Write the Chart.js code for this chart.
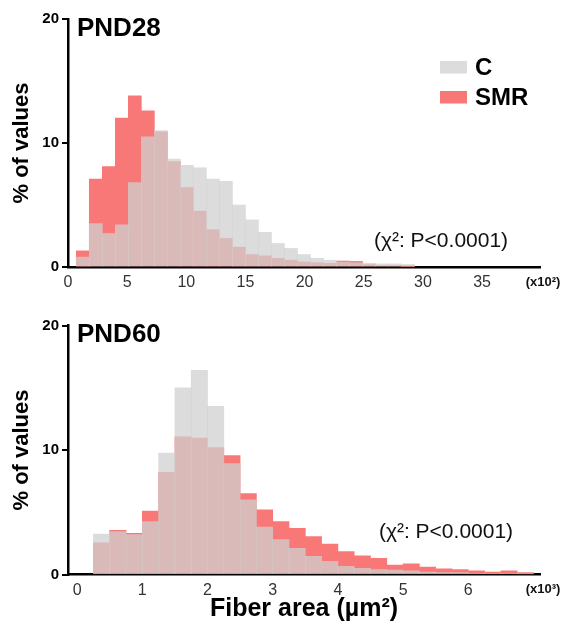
<!DOCTYPE html>
<html>
<head>
<meta charset="utf-8">
<script src="https://cdn.jsdelivr.net/npm/chart.js@4.4.1/dist/chart.umd.min.js"></script>
<style>
  html, body { margin: 0; padding: 0; background: #fff; }
  canvas { display: block; }
</style>
</head>
<body>
<canvas id="pnd28" width="567" height="300"></canvas>
<canvas id="pnd60" width="567" height="334"></canvas>
<script>
// bin centres (x10^2 um^2 for PND28, x10^3 um^2 for PND60) and % of fibres
const seriesNames = ['C', 'SMR'];

const binsPND28 = [1.25, 2.35, 3.45, 4.55, 5.65, 6.75, 7.85, 8.95, 10.05, 11.15, 12.25, 13.35, 14.45,
  15.55, 16.65, 17.75, 18.85, 19.95, 21.05, 22.15, 23.25, 24.35, 25.45, 26.55, 27.65, 28.75];
const cPND28 = [0.8, 3.5, 2.7, 3.4, 6.8, 10.5, 11.0, 8.7, 8.2, 8.0, 7.1, 6.9, 5.0,
  3.8, 2.8, 1.9, 1.5, 1.0, 0.7, 0.55, 0.4, 0.35, 0.3, 0.25, 0.25, 0.2];
const smrPND28 = [1.3, 7.1, 8.1, 12.0, 13.8, 12.6, 10.9, 8.5, 6.4, 4.5, 3.0, 2.3, 1.6,
  1.0, 0.9, 0.7, 0.55, 0.4, 0.35, 0.3, 0.48, 0.45, 0.2, 0.1, 0.1, 0.05];
const ticksPND28 = [0, 5, 10, 15, 20, 25, 30, 35];

const binsPND60 = [0.375, 0.625, 0.875, 1.125, 1.375, 1.625, 1.875, 2.125, 2.375, 2.625, 2.875,
  3.125, 3.375, 3.625, 3.875, 4.125, 4.375, 4.625, 4.875, 5.125, 5.375, 5.625, 5.875, 6.125,
  6.375, 6.625, 6.875];
const cPND60 = [3.25, 3.45, 3.2, 4.25, 9.75, 15.0, 16.4, 13.5, 8.9, 6.0, 3.8, 2.8, 2.1, 1.45,
  1.05, 0.65, 0.5, 0.4, 0.35, 0.3, 0.2, 0.15, 0.15, 0.1, 0.1, 0.1, 0.05];
const smrPND60 = [2.55, 3.55, 3.3, 5.1, 8.2, 11.05, 10.95, 10.2, 9.55, 6.5, 5.2, 4.25, 3.7, 3.05,
  2.45, 1.85, 1.5, 1.3, 0.75, 0.85, 0.6, 0.45, 0.4, 0.3, 0.2, 0.3, 0.15];
const ticksPND60 = [0, 1, 2, 3, 4, 5, 6];
const yTicks = [0, 10, 20];

const FONT = '"Liberation Sans", Arial, sans-serif';
const greyC = 'rgba(208,208,208,0.74)';
const redSMR = '#f87878';

// titles, legend, chi-square note and axis multiplier
const panelText = {
  id: 'panelText',
  afterDraw(chart, args, o) {
    const ctx = chart.ctx;
    ctx.save();
    ctx.fillStyle = '#000';
    ctx.textBaseline = 'middle';
    ctx.textAlign = 'left';
    ctx.font = 'bold 26px ' + FONT;
    ctx.fillText(o.title, 77, o.titleY);

    if (o.legend) {
      chart.data.datasets.forEach(function (ds, i) {
        const y = 61 + i * 30;
        ctx.fillStyle = ds.backgroundColor;
        ctx.fillRect(440, y, 27, 12.5);
        ctx.fillStyle = '#000';
        ctx.font = 'bold 24px ' + FONT;
        ctx.fillText(ds.label, 475, y + 7);
      });
    }

    ctx.fillStyle = '#111';
    ctx.textAlign = 'center';
    ctx.font = '21px ' + FONT;
    ctx.fillText('(\u03c7\u00b2: P<0.0001)', o.noteX, o.noteY);

    ctx.font = 'bold 13px ' + FONT;
    ctx.fillText(o.unit, 543, o.unitY);
    ctx.restore();
  }
};

function makeChart(id, bins, cVals, smrVals, xTicks, xmin, xmax, top, axisH, textOpts, withTitle) {
  const ds = [cVals, smrVals].map(function (vals, i) {
    return {
      label: seriesNames[i],
      data: vals.map(function (v, k) { return { x: bins[k], y: v }; }),
      backgroundColor: i === 0 ? greyC : redSMR,
      borderWidth: 0,
      grouped: false,
      barPercentage: 1,
      categoryPercentage: 1
    };
  });
  return new Chart(document.getElementById(id), {
    type: 'bar',
    data: { datasets: ds },
    options: {
      responsive: false,
      animation: false,
      layout: { padding: { top: top, right: 27, left: 0, bottom: 0 } },
      plugins: { legend: { display: false }, tooltip: { enabled: false }, panelText: textOpts },
      scales: {
        x: {
          type: 'linear',
          offset: false,
          min: xmin,
          max: xmax,
          afterBuildTicks: function (s) { s.ticks = xTicks.map(function (v) { return { value: v }; }); },
          afterFit: function (s) { s.height = axisH; },
          grid: { display: false, drawTicks: false },
          border: { display: true, color: '#000', width: 2.5 },
          ticks: { autoSkip: false, maxRotation: 0, padding: 6, color: '#333', font: { family: FONT, size: 16 } },
          title: {
            display: withTitle,
            text: 'Fiber area (\u00b5m\u00b2)',
            color: '#000',
            font: { family: FONT, size: 25, weight: 'bold' },
            padding: { top: 0, bottom: 10 }
          }
        },
        y: {
          min: 0,
          max: 20,
          afterBuildTicks: function (s) { s.ticks = yTicks.map(function (v) { return { value: v }; }); },
          afterFit: function (s) { s.width = 68; },
          grid: { display: true, drawOnChartArea: false, drawTicks: true, tickLength: 6, color: '#000', lineWidth: 2 },
          border: { display: true, color: '#000', width: 2.5 },
          ticks: { padding: 3, color: '#000', font: { family: FONT, size: 15, weight: 'bold' } },
          title: {
            display: true,
            text: '% of values',
            color: '#000',
            font: { family: FONT, size: 22, weight: 'bold' },
            padding: { top: 9, bottom: 0 }
          }
        }
      }
    },
    plugins: [panelText]
  });
}

makeChart('pnd28', binsPND28, cPND28, smrPND28, ticksPND28, 0, 39.9, 19, 33,
  { title: 'PND28', titleY: 29, legend: true, noteX: 441, noteY: 241, unit: '(x10\u00b2)', unitY: 282 }, false);
makeChart('pnd60', binsPND60, cPND60, smrPND60, ticksPND60, -0.14, 7.1, 25.5, 59.5,
  { title: 'PND60', titleY: 35, legend: false, noteX: 446, noteY: 232, unit: '(x10\u00b3)', unitY: 289 }, true);
</script>
</body>
</html>
